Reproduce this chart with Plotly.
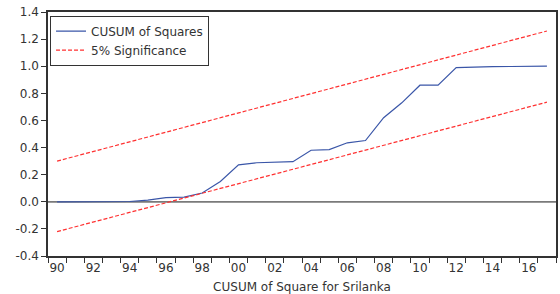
import plotly.graph_objects as go

years = list(range(1990, 2018))
cusum_sq = [0.0, 0.0, 0.0, 0.0, 0.002, 0.012, 0.03, 0.035, 0.065, 0.15,
            0.272, 0.288, 0.29, 0.296, 0.38, 0.385, 0.435, 0.452, 0.62, 0.73,
            0.86, 0.86, 0.99, 0.995, 0.997, 0.998, 1.0, 1.0]
band_years = [1990, 2017]
upper_band = [0.30, 1.26]
lower_band = [-0.22, 0.735]

tick_years = list(range(1990, 2017, 2))
tick_labels = ["%02d" % (y % 100) for y in tick_years]
y_ticks = [1.4, 1.2, 1.0, 0.8, 0.6, 0.4, 0.2, 0.0, -0.2, -0.4]

blue = "#3a56a8"
red = "#ff3030"
font = "DejaVu Sans, Verdana, sans-serif"

fig = go.Figure()
fig.add_trace(go.Scatter(x=years, y=cusum_sq, mode="lines", name="CUSUM of Squares",
                         line=dict(color=blue, width=1.2)))
fig.add_trace(go.Scatter(x=band_years, y=upper_band, mode="lines", name="5% Significance",
                         line=dict(color=red, width=1.2, dash="4px,2px")))
fig.add_trace(go.Scatter(x=band_years, y=lower_band, mode="lines", showlegend=False,
                         line=dict(color=red, width=1.2, dash="4px,2px")))

fig.add_shape(type="line", xref="paper", x0=0, x1=1, yref="y", y0=0, y1=0,
              line=dict(color="#7a7a7a", width=1.8), layer="below")

fig.update_layout(
    width=560, height=294,
    margin=dict(l=48, r=2, t=12, b=38),
    paper_bgcolor="white", plot_bgcolor="white",
    font=dict(family=font, size=12, color="#333333"),
    showlegend=True,
    legend=dict(x=0.004, y=0.985, xanchor="left", yanchor="top",
                bordercolor="#333333", borderwidth=1, bgcolor="white",
                font=dict(family=font, size=12, color="#333333"),
                tracegroupgap=0, itemwidth=30),
    xaxis=dict(range=[1989.5, 2017.5], tickvals=tick_years, ticktext=tick_labels,
               ticks="", showgrid=False, zeroline=False,
               showline=True, linecolor="#333333", linewidth=1.5, mirror=True,
               minor=dict(tick0=1989.5, dtick=1, ticks="outside", ticklen=5,
                          tickcolor="#333333", showgrid=False),
               tickfont=dict(size=12),
               title=dict(text="CUSUM of Square for Srilanka", font=dict(size=12), standoff=8)),
    yaxis=dict(range=[-0.4, 1.4], tickvals=y_ticks,
               ticktext=["%.1f" % v for v in y_ticks],
               ticks="outside", ticklen=5, tickcolor="#333333",
               showgrid=False, zeroline=False,
               showline=True, linecolor="#333333", linewidth=1.5, mirror=True,
               tickfont=dict(size=12)),
)

fig.write_html("out.html", config={"displayModeBar": False},
               post_script="document.body.style.margin='0';")
